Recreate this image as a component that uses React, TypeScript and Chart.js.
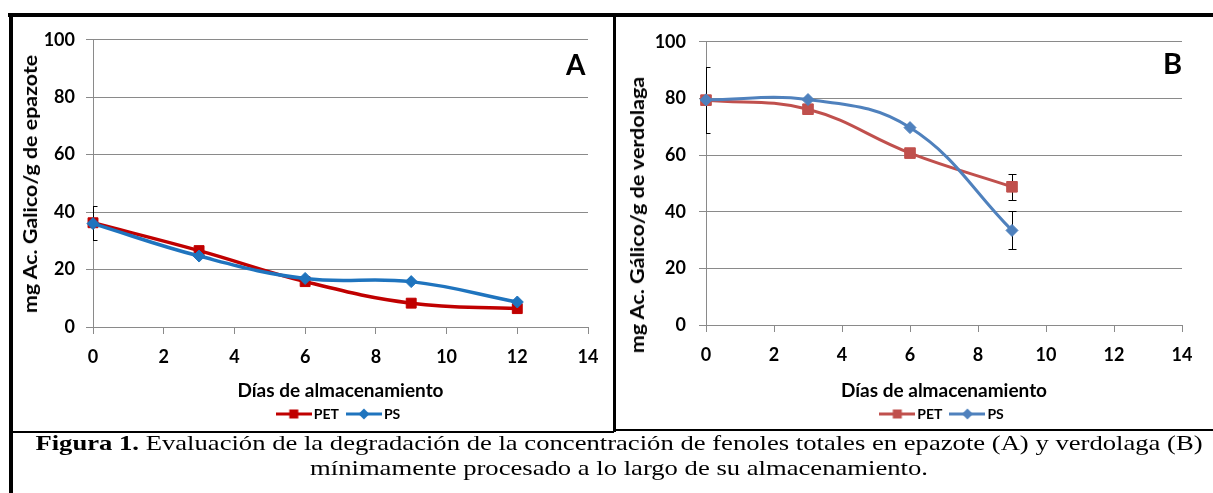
import React, { useEffect, useLayoutEffect, useRef, useState } from 'react';
import { Chart, registerables } from 'chart.js';

Chart.register(...registerables);

// ---------------- data ----------------
const daysA = [0, 3, 6, 9, 12];
const epazotePET = [36.3, 26.6, 15.8, 8.3, 6.4];
const epazotePS = [36.0, 24.7, 16.9, 15.8, 8.7];
const epazotePETErr = [5.9, 0, 0, 0, 0];
const epazotePSErr = [0, 0, 0, 0, 0];

const daysB = [0, 3, 6, 9];
const verdolagaPET = [79.4, 76.2, 60.7, 48.8];
const verdolagaPS = [79.5, 79.6, 69.7, 33.4];
const verdolagaPETErr = [0, 0, 0, 4.5];
const verdolagaPSErr = [11.7, 0, 0, 6.7];

const xTickValues = [0, 2, 4, 6, 8, 10, 12, 14];
const yTickValues = [0, 20, 40, 60, 80, 100];
const seriesNames = ['PET', 'PS'];
const xTitle = 'Días de almacenamiento';
const yTitleA = 'mg Ac. Galico/g de epazote';
const yTitleB = 'mg Ac. Gálico/g de verdolaga';
const panelLetters = ['A', 'B'];
const captionBold = 'Figura 1.';
const captionLine1 = ' Evaluación de la degradación de la concentración de fenoles totales en epazote (A) y verdolaga (B)';
const captionLine2 = 'mínimamente procesado a lo largo de su almacenamiento.';

// ---------------- styles ----------------
const GRID = '#8a8a8a';
const FONT = 'Lato';
const colorsA = ['#C00000', '#1F74BE'];
const colorsB = ['#C0504D', '#4F81BD'];

function legendGlyph(color: string, shape: string) {
  const c = document.createElement('canvas');
  c.width = 36;
  c.height = 12;
  const ctx = c.getContext('2d')!;
  ctx.strokeStyle = color;
  ctx.lineWidth = 3;
  ctx.beginPath();
  ctx.moveTo(0, 6);
  ctx.lineTo(36, 6);
  ctx.stroke();
  ctx.fillStyle = color;
  if (shape === 'rect') {
    ctx.fillRect(13.5, 1.5, 9, 9);
  } else {
    ctx.beginPath();
    ctx.moveTo(18, 0.5);
    ctx.lineTo(23.5, 6);
    ctx.lineTo(18, 11.5);
    ctx.lineTo(12.5, 6);
    ctx.closePath();
    ctx.fill();
  }
  return c;
}

const errorBarPlugin = {
  id: 'errorBars',
  beforeDatasetsDraw(chart: any) {
    const { ctx, chartArea, scales } = chart;
    const x = scales.x;
    const y = scales.y;
    ctx.save();
    ctx.beginPath();
    ctx.rect(chartArea.left, chartArea.top - 20, chartArea.right - chartArea.left, chartArea.bottom - chartArea.top + 20);
    ctx.clip();
    ctx.strokeStyle = '#000';
    ctx.lineWidth = 1;
    chart.data.datasets.forEach((ds: any) => {
      const errs = ds.errorBars;
      if (!errs) return;
      ds.data.forEach((pt: any, i: number) => {
        const e = errs[i];
        if (!e) return;
        const px = Math.round(x.getPixelForValue(pt.x)) + 0.5;
        const yTop = Math.round(y.getPixelForValue(pt.y + e)) + 0.5;
        const yBot = Math.round(y.getPixelForValue(pt.y - e)) + 0.5;
        ctx.beginPath();
        ctx.moveTo(px, yTop);
        ctx.lineTo(px, yBot);
        ctx.moveTo(px - 4, yTop);
        ctx.lineTo(px + 4, yTop);
        ctx.moveTo(px - 4, yBot);
        ctx.lineTo(px + 4, yBot);
        ctx.stroke();
      });
    });
    ctx.restore();
  },
};

type PanelCfg = {
  days: number[];
  pet: number[];
  ps: number[];
  petErr: number[];
  psErr: number[];
  colors: string[];
  padTop: number;
  padRight: number;
  yWidth: number;
  yTickPad: number;
  xHeight: number;
  xTickPad: number;
  xTitlePadB: number;
  squareR: number;
  diamondR: number;
  lineW: number;
};

function Panel({ left, top, width, height, cfg }: { left: number; top: number; width: number; height: number; cfg: PanelCfg }) {
  const ref = useRef<HTMLCanvasElement>(null);
  useEffect(() => {
    const glyphs = [legendGlyph(cfg.colors[0], 'rect'), legendGlyph(cfg.colors[1], 'diamond')];
    const tickFont = { family: FONT, weight: 'bold' as const, size: 18 };
    const chart = new Chart(ref.current!, {
      type: 'line',
      data: {
        datasets: [
          {
            label: seriesNames[0],
            data: cfg.days.map((d, i) => ({ x: d, y: cfg.pet[i] })),
            borderColor: cfg.colors[0],
            backgroundColor: cfg.colors[0],
            pointBackgroundColor: cfg.colors[0],
            pointBorderColor: cfg.colors[0],
            borderWidth: cfg.lineW,
            pointStyle: 'rect',
            pointRadius: cfg.squareR,
            pointBorderWidth: 1,
            tension: 0.4,
            clip: false,
            order: 1,
            errorBars: cfg.petErr,
          } as any,
          {
            label: seriesNames[1],
            data: cfg.days.map((d, i) => ({ x: d, y: cfg.ps[i] })),
            borderColor: cfg.colors[1],
            backgroundColor: cfg.colors[1],
            pointBackgroundColor: cfg.colors[1],
            pointBorderColor: cfg.colors[1],
            borderWidth: cfg.lineW,
            pointStyle: 'rectRot',
            pointRadius: cfg.diamondR,
            pointBorderWidth: 1,
            tension: 0.4,
            clip: false,
            order: 0,
            errorBars: cfg.psErr,
          } as any,
        ],
      },
      options: {
        responsive: false,
        animation: false,
        devicePixelRatio: 1,
        layout: { padding: { left: 0, right: cfg.padRight, top: cfg.padTop, bottom: 7 } },
        scales: {
          x: {
            type: 'linear',
            min: 0,
            max: 14,
            afterBuildTicks: (s: any) => {
              s.ticks = xTickValues.map((v) => ({ value: v }));
            },
            afterFit: (s: any) => {
              s.height = cfg.xHeight;
            },
            grid: { drawOnChartArea: false, drawTicks: true, tickLength: 7, color: GRID, lineWidth: 1 },
            border: { display: true, color: GRID, width: 1 },
            ticks: { padding: cfg.xTickPad, color: '#000', font: tickFont, maxRotation: 0, autoSkip: false },
            title: {
              display: true,
              text: xTitle,
              color: '#000',
              font: { family: FONT, weight: 'bold', size: 19 },
              padding: { top: 0, bottom: cfg.xTitlePadB },
            },
          },
          y: {
            type: 'linear',
            min: 0,
            max: 100,
            afterBuildTicks: (s: any) => {
              s.ticks = yTickValues.map((v) => ({ value: v }));
            },
            afterFit: (s: any) => {
              s.width = cfg.yWidth;
            },
            grid: { color: GRID, lineWidth: 1, tickLength: 7 },
            border: { display: true, color: GRID, width: 1 },
            ticks: { padding: cfg.yTickPad, color: '#000', font: tickFont },
            title: { display: false },
          },
        },
        plugins: {
          legend: {
            position: 'bottom',
            fullSize: false,
            align: 'center',
            labels: {
              usePointStyle: true,
              pointStyleWidth: 26,
              padding: 12,
              color: '#000',
              font: { family: FONT, weight: 'bold', size: 14 },
              generateLabels: () =>
                seriesNames.map((name, i) => ({
                  text: name,
                  pointStyle: glyphs[i] as any,
                  fillStyle: cfg.colors[i],
                  strokeStyle: cfg.colors[i],
                  lineWidth: 0,
                  hidden: false,
                  datasetIndex: i,
                  fontColor: '#000',
                })),
            },
          },
          tooltip: { enabled: false },
        },
      } as any,
      plugins: [errorBarPlugin],
    });
    return () => chart.destroy();
  }, []);
  return (
    <canvas
      ref={ref}
      width={width}
      height={height}
      style={{ position: 'absolute', left, top, width, height }}
    />
  );
}

function useFitScale(target: number) {
  const ref = useRef<HTMLSpanElement>(null);
  const [scale, setScale] = useState(1);
  useLayoutEffect(() => {
    if (ref.current) {
      const w = ref.current.offsetWidth;
      if (w > 0) setScale(target / w);
    }
  }, [target]);
  return [ref, scale] as const;
}

function YTitle({ text, cx, cy, length }: { text: string; cx: number; cy: number; length: number }) {
  const [ref, scale] = useFitScale(length);
  return (
    <div
      style={{
        position: 'absolute',
        left: cx,
        top: cy,
        transform: `translate(-50%, -50%) rotate(-90deg) scaleX(${scale})`,
        whiteSpace: 'nowrap',
        fontFamily: FONT,
        fontWeight: 'bold',
        fontSize: 18,
        lineHeight: 1,
        color: '#000',
      }}
    >
      <span ref={ref}>{text}</span>
    </div>
  );
}

function Caption() {
  const [ref, scale] = useFitScale(1167);
  const center = 618.5;
  return (
    <div
      style={{
        position: 'absolute',
        left: center - 700,
        width: 1400,
        top: 431,
        textAlign: 'center',
        fontFamily: '"Liberation Serif", "Times New Roman", serif',
        fontSize: 21,
        lineHeight: '25px',
        color: '#000',
        transform: `scaleX(${scale})`,
        transformOrigin: '50% 50%',
        whiteSpace: 'nowrap',
      }}
    >
      <div>
        <span ref={ref}>
          <b>{captionBold}</b>
          {captionLine1}
        </span>
      </div>
      <div>{captionLine2}</div>
    </div>
  );
}

const cfgA: PanelCfg = {
  days: daysA,
  pet: epazotePET,
  ps: epazotePS,
  petErr: epazotePETErr,
  psErr: epazotePSErr,
  colors: colorsA,
  padTop: 20,
  padRight: 24,
  yWidth: 79,
  yTickPad: 11,
  xHeight: 68,
  xTickPad: 12,
  xTitlePadB: -7.4,
  squareR: 7,
  diamondR: 6,
  lineW: 3.5,
};

const cfgB: PanelCfg = {
  days: daysB,
  pet: verdolagaPET,
  ps: verdolagaPS,
  petErr: verdolagaPETErr,
  psErr: verdolagaPSErr,
  colors: colorsB,
  padTop: 17,
  padRight: 31,
  yWidth: 90,
  yTickPad: 13,
  xHeight: 70,
  xTickPad: 12,
  xTitlePadB: -6.9,
  squareR: 7.5,
  diamondR: 6,
  lineW: 3,
};

const line = (left: number, top: number, width: number, height: number) => (
  <div style={{ position: 'absolute', left, top, width, height, background: '#000', zIndex: 2 }} />
);

export default function App() {
  return (
    <div
      style={{
        position: 'absolute',
        left: 0,
        top: 0,
        width: 1213,
        height: 493,
        background: '#fff',
        overflow: 'hidden',
      }}
    >
      <Panel left={14} top={18} width={598} height={420} cfg={cfgA} />
      <Panel left={616} top={18} width={597} height={420} cfg={cfgB} />
      <YTitle text={yTitleA} cx={30} cy={184} length={258} />
      <YTitle text={yTitleB} cx={637} cy={215} length={276} />
      <div style={{ position: 'absolute', left: 566, top: 50, fontFamily: FONT, fontWeight: 'bold', fontSize: 28, lineHeight: 1, color: '#000' }}>
        {panelLetters[0]}
      </div>
      <div style={{ position: 'absolute', left: 1163, top: 48, fontFamily: FONT, fontWeight: 'bold', fontSize: 29, lineHeight: 1, color: '#000' }}>
        {panelLetters[1]}
      </div>
      {line(8, 13, 1205, 4)}
      {line(9, 13, 4, 480)}
      {line(613, 13, 3, 419)}
      {line(9, 431, 605, 2)}
      {line(613, 429, 600, 2)}
      <Caption />
    </div>
  );
}
